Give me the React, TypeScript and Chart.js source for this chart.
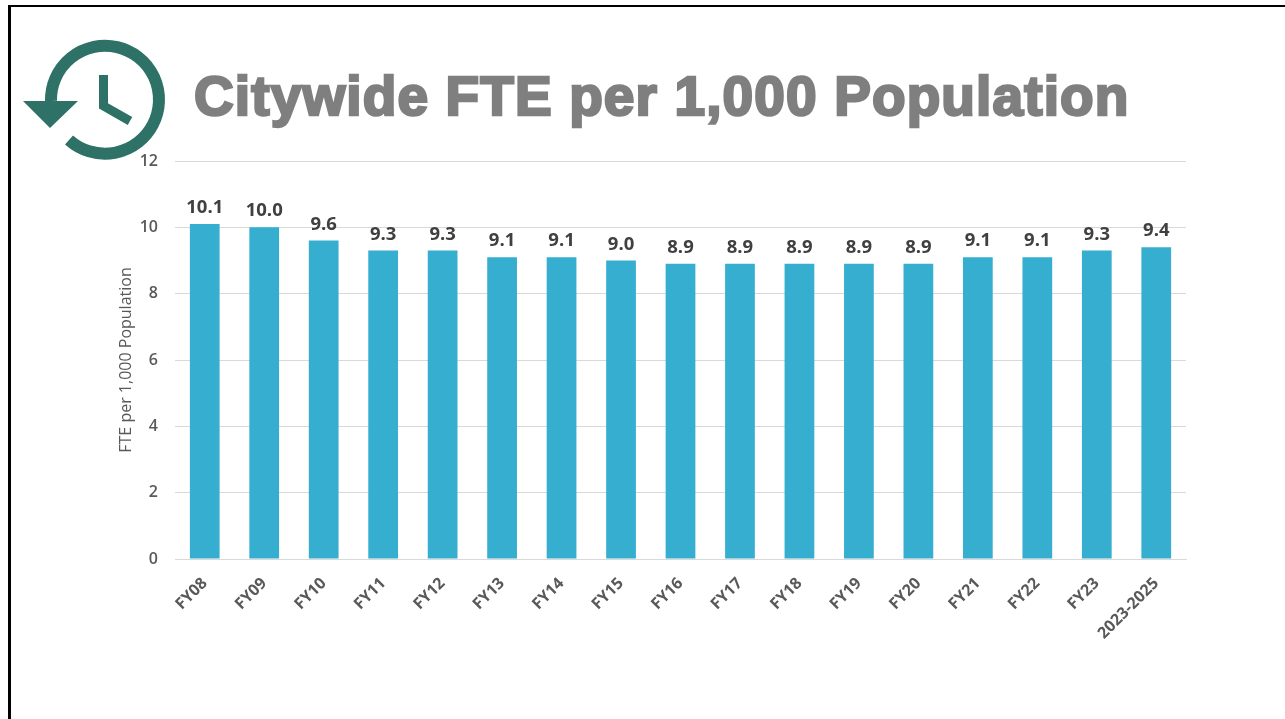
import React, { useEffect, useRef } from "react";
import { Chart, registerables } from "chart.js";

Chart.register(...registerables);

const categories = ["FY08","FY09","FY10","FY11","FY12","FY13","FY14","FY15","FY16","FY17","FY18","FY19","FY20","FY21","FY22","FY23","2023-2025"];
const values = [10.1,10.0,9.6,9.3,9.3,9.1,9.1,9.0,8.9,8.9,8.9,8.9,8.9,9.1,9.1,9.3,9.4];
const titleText = "Citywide FTE per 1,000 Population";
const axisTitle = "FTE per 1,000 Population";
const FONT = '"Open Sans", sans-serif';

const dataLabels = {
  id: "dataLabels",
  afterDatasetsDraw(chart: any) {
    const { ctx } = chart;
    const meta = chart.getDatasetMeta(0);
    ctx.save();
    ctx.font = `700 18.5px ${FONT}`;
    ctx.fillStyle = "#404040";
    ctx.textAlign = "center";
    ctx.textBaseline = "bottom";
    meta.data.forEach((bar: any, i: number) => {
      ctx.fillText(values[i].toFixed(1), bar.x, bar.y - 7);
    });
    ctx.restore();
  },
};

export default function App() {
  const ref = useRef<HTMLCanvasElement>(null);
  useEffect(() => {
    document.body.style.margin = "0";
    document.body.style.overflow = "hidden";
    const chart = new Chart(ref.current!, {
      type: "bar",
      data: {
        labels: categories,
        datasets: [{ data: values, backgroundColor: "#35aed0", barPercentage: 0.5, categoryPercentage: 1 }],
      },
      options: {
        animation: false,
        responsive: false,
        layout: { padding: { left: 117, right: 99, top: 161, bottom: 0 } },
        plugins: { legend: { display: false }, tooltip: { enabled: false } },
        scales: {
          x: {
            grid: { display: false, drawTicks: false },
            border: { color: "#d9d9d9" },
            ticks: { color: "#595959", font: { family: FONT, size: 16, weight: 700 }, maxRotation: 45, minRotation: 45, autoSkip: false, padding: 15 },
            afterFit: (s: any) => { s.height = 160; },
          },
          y: {
            min: 0,
            max: 12,
            grid: { color: "#d9d9d9", drawTicks: false },
            border: { display: false },
            ticks: { stepSize: 2, color: "#595959", padding: 17, font: { family: FONT, size: 16, weight: 600 } },
            title: { display: true, text: axisTitle, color: "#595959", padding: 0, font: { family: FONT, size: 16 } },
            afterFit: (s: any) => { s.width = 58; },
          },
        },
      },
      plugins: [dataLabels],
    } as any);
    return () => chart.destroy();
  }, []);
  return (
    <div style={{ position: "fixed", left: 0, top: 0, width: 1285, height: 719, background: "#fff", overflow: "hidden" }}>
      <canvas ref={ref} width={1285} height={719} style={{ position: "absolute", left: 0, top: 0 }} />
      <div style={{ position: "absolute", left: 8, top: 5, width: 1290, height: 730, borderLeft: "3px solid #000", borderTop: "2px solid #000" }} />
      <svg width={180} height={170} style={{ position: "absolute", left: 0, top: 0 }}>
        <path d="M 51 100 A 54 54 0 1 1 69 139" fill="none" stroke="#2d7167" strokeWidth={12} transform="translate(0 1)" />
        <polygon points="23,101 78,101 50,128" fill="#2d7167" />
        <polyline points="103.5,75 103.5,106 130,121" fill="none" stroke="#2d7167" strokeWidth={9} />
      </svg>
      <div style={{ position: "absolute", left: 194, top: 61, fontFamily: '"Liberation Sans", sans-serif', fontWeight: 700, fontSize: 55, lineHeight: "70px", color: "#7f7f7f", WebkitTextStroke: "2.5px #7f7f7f", whiteSpace: "nowrap", letterSpacing: 1.12 }}>
        {titleText}
      </div>
    </div>
  );
}
